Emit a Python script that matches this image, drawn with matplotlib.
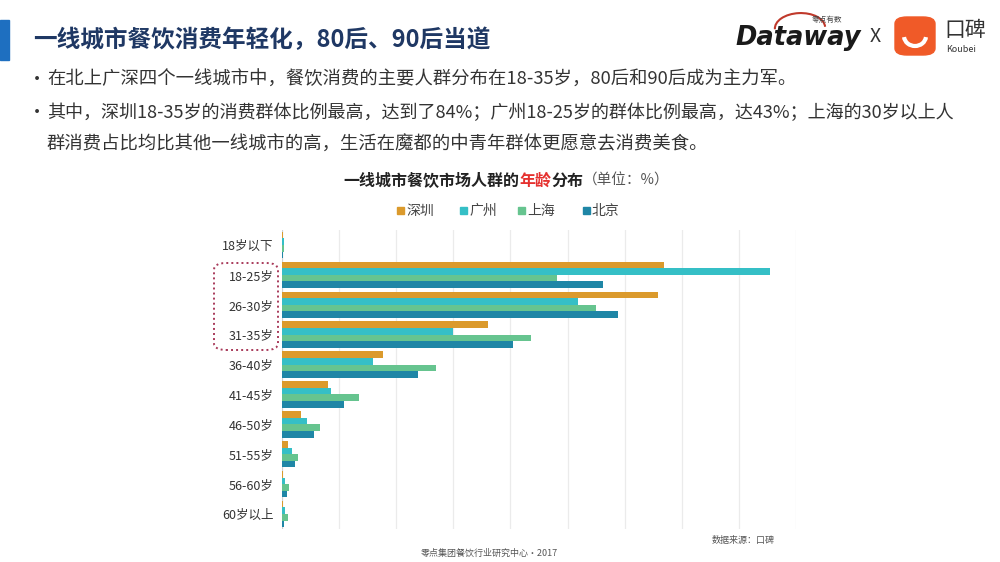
import matplotlib
matplotlib.use("Agg")
import matplotlib.pyplot as plt
import numpy as np
from matplotlib.patches import FancyBboxPatch, Rectangle, Arc

plt.rcParams['font.family'] = ['Noto Sans CJK SC', 'DejaVu Sans']

# ---- data ----
categories = ["18岁以下", "18-25岁", "26-30岁", "31-35岁", "36-40岁",
              "41-45岁", "46-50岁", "51-55岁", "56-60岁", "60岁以上"]
series_names = ["深圳", "广州", "上海", "北京"]
shenzhen = [0.1, 33.4, 32.9, 18.0, 8.8, 4.0, 1.7, 0.5, 0.1, 0.1]
guangzhou = [0.2, 42.7, 25.9, 15.0, 8.0, 4.3, 2.2, 0.9, 0.3, 0.3]
shanghai = [0.2, 24.1, 27.5, 21.8, 13.5, 6.7, 3.3, 1.4, 0.6, 0.5]
beijing = [0.1, 28.1, 29.4, 20.2, 11.9, 5.4, 2.8, 1.1, 0.4, 0.2]
series_values = [shenzhen, guangzhou, shanghai, beijing]
series_colors = ["#DB9A2C", "#35BFC6", "#66C48F", "#1F86A6"]

W, H = 1000, 562
fig = plt.figure(figsize=(10, 5.62), dpi=100)
fig.patch.set_facecolor("white")

def fx(px):
    return px / W

def fy(py):
    return 1 - py / H

# ---- header ----
fig.patches.append(Rectangle((0, fy(60)), fx(9), (40) / H, transform=fig.transFigure,
                             color="#1E6FC0", zorder=1))
fig.text(fx(33), fy(40), "一线城市餐饮消费年轻化，80后、90后当道", fontsize=17,
         fontweight="bold", color="#1F3864", va="center", ha="left")

bullet_color = "#333333"
fig.text(fx(28), fy(80), "•", fontsize=13, color=bullet_color, va="center")
fig.text(fx(47), fy(80), "在北上广深四个一线城市中，餐饮消费的主要人群分布在18-35岁，80后和90后成为主力军。",
         fontsize=13.2, color=bullet_color, va="center")
fig.text(fx(28), fy(113), "•", fontsize=13, color=bullet_color, va="center")
fig.text(fx(47), fy(113), "其中，深圳18-35岁的消费群体比例最高，达到了84%；广州18-25岁的群体比例最高，达43%；上海的30岁以上人",
         fontsize=13.0, color=bullet_color, va="center")
fig.text(fx(47), fy(145), "群消费占比均比其他一线城市的高，生活在魔都的中青年群体更愿意去消费美食。",
         fontsize=13.2, color=bullet_color, va="center")

# ---- logos (approximation) ----
fig.text(fx(735), fy(38), "Dataway", fontsize=18.5, fontweight="bold", fontstyle="italic",
         family="DejaVu Sans", color="#1a1a1a", va="center", ha="left")
fig.text(fx(812), fy(20), "零点有数", fontsize=5.5, color="#444444", va="center", ha="left")
arc = Arc((fx(800), fy(28)), fx(50), 30 / H, angle=-15, theta1=20, theta2=200,
          transform=fig.transFigure, color="#C0392B", lw=1.5)
fig.patches.append(arc)
fig.text(fx(870), fy(36), "X", fontsize=14, color="#333333", va="center", ha="left")
fig.patches.append(FancyBboxPatch((fx(895), fy(55)), fx(40), 38 / H,
                                  boxstyle="round,pad=0.0,rounding_size=0.012",
                                  transform=fig.transFigure, color="#F05A28", zorder=2))
smile = Arc((fx(915), fy(36)), fx(22), 20 / H, theta1=190, theta2=350,
            transform=fig.transFigure, color="white", lw=3, zorder=3)
fig.patches.append(smile)
fig.text(fx(944), fy(30), "口碑", fontsize=15, color="#333333", va="center", ha="left")
fig.text(fx(946), fy(49), "Koubei", fontsize=6.5, color="#333333", va="center", ha="left")

# ---- chart title with coloured part ----
fig.canvas.draw()
renderer = fig.canvas.get_renderer()
x_cursor = fx(343)
parts = [("一线城市餐饮市场人群的", "#222222", "bold", 11.5),
         ("年龄", "#E5312F", "bold", 11.5),
         ("分布", "#222222", "bold", 11.5),
         ("（单位：%）", "#555555", "normal", 10.5)]
for txt, col, wt, fs in parts:
    t = fig.text(x_cursor, fy(181), txt, fontsize=fs, fontweight=wt, color=col,
                 va="center", ha="left")
    bb = t.get_window_extent(renderer=renderer)
    x_cursor = bb.x1 / fig.bbox.width

# ---- legend (manual) ----
legend_x = [397, 460, 518, 583]
for name, col, lx in zip(series_names, series_colors, legend_x):
    fig.patches.append(Rectangle((fx(lx), fy(214)), fx(7), 7 / H, transform=fig.transFigure,
                                 color=col))
    fig.text(fx(lx + 9), fy(211), name, fontsize=10, color="#444444", va="center", ha="left")

# ---- bar chart ----
ax = fig.add_axes([fx(282), fy(529), fx(796 - 282), (529 - 230) / H])
n = len(categories)
y = np.arange(n)
bh = 0.22
offsets = [-1.5 * bh, -0.5 * bh, 0.5 * bh, 1.5 * bh]
for vals, col, off in zip(series_values, series_colors, offsets):
    ax.barh(y + off, vals, height=bh, color=col, zorder=3)

ax.set_xlim(0, 45)
ax.set_ylim(n - 0.5, -0.5)
ax.set_xticks(np.arange(0, 46, 5))
ax.set_xticklabels([])
ax.tick_params(axis="x", length=0)
ax.grid(axis="x", color="#EBEBEB", lw=0.9, zorder=0)
ax.set_yticks(y)
ax.set_yticklabels(categories, fontsize=9, color="#333333")
ax.tick_params(axis="y", length=0, pad=6)
for s in ax.spines.values():
    s.set_visible(False)
ax.axvline(0, color="#D0D0D0", lw=0.8, zorder=2)

# dotted highlight box
fig.patches.append(FancyBboxPatch((fx(214), fy(350)), fx(64), (350 - 263) / H,
                                  boxstyle="round,pad=0.0,rounding_size=0.012",
                                  transform=fig.transFigure, fill=False,
                                  edgecolor="#A83A5A", lw=1.4, linestyle=(0, (1, 1.6))))

# ---- footer ----
fig.text(fx(712), fy(541), "数据来源：口碑", fontsize=6.5, color="#555555", va="center", ha="left")
fig.text(fx(421), fy(553), "零点集团餐饮行业研究中心·2017", fontsize=6.5, color="#555555",
         va="center", ha="left")

fig.savefig("out.png", dpi=100, facecolor="white")
